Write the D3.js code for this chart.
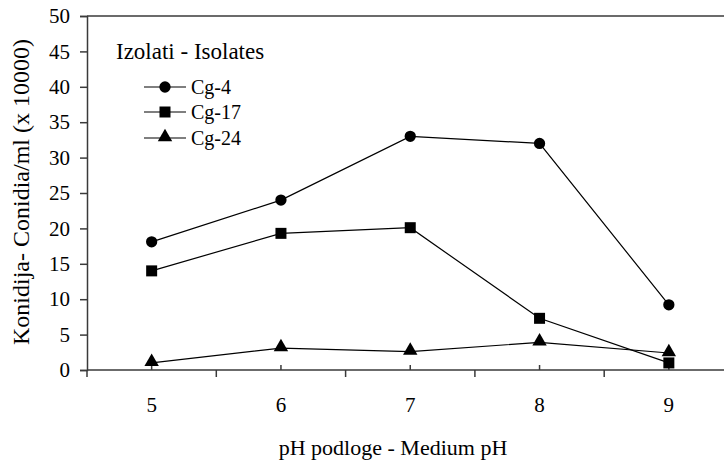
<!DOCTYPE html>
<html>
<head>
<meta charset="utf-8">
<script src="https://cdn.jsdelivr.net/npm/d3@7"></script>
<style>
  html, body { margin: 0; padding: 0; background: #fff; }
</style>
</head>
<body>
<svg id="chart" width="724" height="460"></svg>
<script>
const categories = ["5", "6", "7", "8", "9"];
const cg4  = [18.1, 24.0, 33.0, 32.0, 9.2];
const cg17 = [14.0, 19.3, 20.1, 7.3, 1.0];
const cg24 = [1.0, 3.1, 2.6, 3.9, 2.4];
const seriesNames = ["Cg-4", "Cg-17", "Cg-24"];
const seriesSymbols = ["circle", "square", "triangle"];
const yTicks = [0, 5, 10, 15, 20, 25, 30, 35, 40, 45, 50];
const xTitle = "pH podloge - Medium pH";
const yTitle = "Konidija- Conidia/ml (x 10000)";
const legendTitle = "Izolati - Isolates";

(function () {
const FONT = "Liberation Serif";
const svg = d3.select("#chart");
const W = 724;
const mLeft = 87, mTop = 16, mBottom = 370, mRight = 733.5;

const x = d3.scaleBand().domain(categories).range([mLeft, mRight]).padding(0);
const y = d3.scaleLinear().domain([0, 50]).range([mBottom, mTop]);
const cx = d => x(d) + x.bandwidth() / 2;

const axisColor = "#3a3a3a";

// Y axis
const yAxis = svg.append("g").attr("transform", `translate(${mLeft},0)`)
  .call(d3.axisLeft(y).tickValues(yTicks).tickSize(7).tickPadding(10).tickFormat(d3.format("d")));
yAxis.select(".domain").attr("stroke", axisColor).attr("stroke-width", 1.5);
yAxis.selectAll(".tick line").attr("stroke", axisColor).attr("stroke-width", 1.5);
yAxis.selectAll(".tick text").style("font-family", FONT).style("font-size", "21px").attr("fill", "#000");

// top border line
svg.append("line").attr("x1", mLeft).attr("x2", W).attr("y1", y(50)).attr("y2", y(50))
  .attr("stroke", axisColor).attr("stroke-width", 1.5);

// X axis
const xAxis = svg.append("g").attr("transform", `translate(0,${mBottom})`)
  .call(d3.axisBottom(x).tickSize(0).tickPadding(27));
xAxis.select(".domain").remove();
xAxis.selectAll(".tick text").style("font-family", FONT).style("font-size", "21px").attr("fill", "#000");
svg.append("line").attr("x1", mLeft).attr("x2", W).attr("y1", mBottom).attr("y2", mBottom)
  .attr("stroke", axisColor).attr("stroke-width", 1.5);
// boundary ticks (downward)
svg.append("g").selectAll("line").data(categories).join("line")
  .attr("x1", d => x(d)).attr("x2", d => x(d))
  .attr("y1", mBottom).attr("y2", mBottom + 7)
  .attr("stroke", axisColor).attr("stroke-width", 1.5);
// center ticks (upward)
svg.append("g").selectAll("line").data(categories).join("line")
  .attr("x1", d => cx(d)).attr("x2", d => cx(d))
  .attr("y1", mBottom).attr("y2", mBottom - 5)
  .attr("stroke", axisColor).attr("stroke-width", 1.5);

// Titles
svg.append("text").attr("x", 393).attr("y", 455).attr("text-anchor", "middle")
  .style("font-family", FONT).style("font-size", "22px").text(xTitle);
svg.append("text").attr("transform", `translate(29,192) rotate(-90)`).attr("text-anchor", "middle")
  .style("font-family", FONT).style("font-size", "24px").text(yTitle);

// Series
const allSeries = [cg4, cg17, cg24];
const symTypes = { circle: d3.symbolCircle, square: d3.symbolSquare, triangle: d3.symbolTriangle };
const symSize = { circle: 100, square: 121, triangle: 90 };
const line = d3.line().x((v, i) => cx(categories[i])).y(v => y(v));

allSeries.forEach((vals) => {
  svg.append("path").datum(vals).attr("d", line)
    .attr("fill", "none").attr("stroke", "#000").attr("stroke-width", 1.2);
});
allSeries.forEach((vals, si) => {
  const sym = d3.symbol().type(symTypes[seriesSymbols[si]]).size(symSize[seriesSymbols[si]]);
  svg.append("g").selectAll("path").data(vals).join("path")
    .attr("transform", (v, i) => `translate(${cx(categories[i])},${y(v) + (seriesSymbols[si] === "triangle" ? -1 : 0)})`)
    .attr("d", sym).attr("fill", "#000");
});

// Legend
svg.append("text").attr("x", 116).attr("y", 59)
  .style("font-family", FONT).style("font-size", "23px").text(legendTitle);
const legRows = [87, 112, 138];
seriesNames.forEach((name, i) => {
  const g = svg.append("g");
  g.append("line").attr("x1", 144).attr("x2", 186).attr("y1", legRows[i]).attr("y2", legRows[i])
    .attr("stroke", "#000").attr("stroke-width", 1.2);
  g.append("path").attr("transform", `translate(165,${legRows[i] + (seriesSymbols[i] === "triangle" ? -1 : 0)})`)
    .attr("d", d3.symbol().type(symTypes[seriesSymbols[i]]).size(symSize[seriesSymbols[i]])).attr("fill", "#000");
  g.append("text").attr("x", 191).attr("y", legRows[i] + 7)
    .style("font-family", FONT).style("font-size", "20px").text(name);
});
})();
</script>
</body>
</html>
